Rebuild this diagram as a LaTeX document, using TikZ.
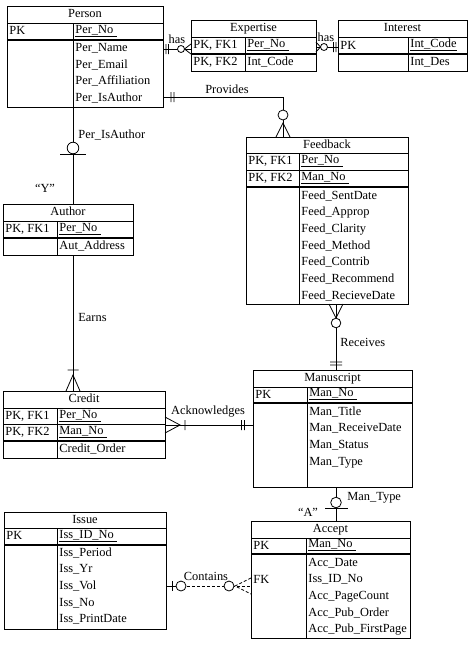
\documentclass[tikz,border=0pt]{standalone}
\usepackage{fontspec}
\setmainfont{Liberation Serif}
\usetikzlibrary{calc}
\tikzstyle{Entity}=[rectangle, draw=black, line width=0.8pt, anchor=north west, inner sep=0]
\tikzstyle{Field}=[anchor=west, inner sep=0, text height=8.5pt, text depth=2.5pt]
\tikzstyle{Title}=[inner sep=0, text height=8.5pt, text depth=2.5pt]
\tikzstyle{Key}=[line width=1.3pt]
\tikzstyle{Rel}=[line width=0.8pt]

\begin{document}
\begin{tikzpicture}[x=1pt, y=-1pt, font=\fontsize{12.4}{14}\selectfont, line width=0.8pt]
    \useasboundingbox (0,0) rectangle (474,656);

    % Person
    \path (7,6) node[Entity, minimum width=156, minimum height=101] (person) {};
    \path (85,14.5) node[Title] (person-t) {Person}
    (9,31) node[Field] (person-k) {PK}
    (75,30) node[Field] (person-pk) {Per\_No};
    \foreach \a [count=\i] in {Per\_Name,Per\_Email,Per\_Affiliation,Per\_IsAuthor}
        \path (75,31.8+16.7*\i) node[Field] (person-\i) {\a};
    \draw (7,23) -- (163,23) (73,23) -- (73,107);
    \draw[Key] (7,40) -- (163,40);
    \draw (person-pk.south west) -- ([xshift=3pt]person-pk.south east);

    % Expertise
    \path (191,20) node[Entity, minimum width=125, minimum height=51] (expertise) {};
    \path (253.5,28.5) node[Title] (expertise-t) {Expertise}
    (193,45.5) node[Field] (expertise-k1) {PK, FK1}
    (247,44.5) node[Field] (expertise-pk) {Per\_No}
    (193,62.5) node[Field] (expertise-k2) {PK, FK2}
    (247,62.5) node[Field] (expertise-1) {Int\_Code};
    \draw (191,37) -- (316,37) (245,37) -- (245,71);
    \draw[Key] (191,54) -- (316,54);
    \draw (expertise-pk.south west) -- ([xshift=3pt]expertise-pk.south east);

    % Interest
    \path (338,20) node[Entity, minimum width=129, minimum height=51] (interest) {};
    \path (402.5,28.5) node[Title] (interest-t) {Interest}
    (340,46) node[Field] (interest-k) {PK}
    (410,44.5) node[Field] (interest-pk) {Int\_Code}
    (410,62.5) node[Field] (interest-1) {Int\_Des};
    \draw (338,37) -- (467,37) (408,37) -- (408,71);
    \draw[Key] (338,54) -- (467,54);
    \draw (interest-pk.south west) -- (interest-pk.south east);

    % Feedback
    \path (246,137) node[Entity, minimum width=162, minimum height=167] (feedback) {};
    \path (327,145) node[Title] (feedback-t) {Feedback}
    (248,161.5) node[Field] (feedback-k1) {PK, FK1}
    (301,160.5) node[Field] (feedback-pk1) {Per\_No}
    (248,178.5) node[Field] (feedback-k2) {PK, FK2}
    (301,177.5) node[Field] (feedback-pk2) {Man\_No};
    \foreach \a [count=\i] in {Feed\_SentDate,Feed\_Approp,Feed\_Clarity,Feed\_Method,Feed\_Contrib,Feed\_Recommend,Feed\_RecieveDate}
        \path (301,179.3+16.7*\i) node[Field] (feedback-\i) {\a};
    \draw (246,153) -- (408,153) (246,170) -- (408,170) (299,153) -- (299,304);
    \draw[Key] (246,187) -- (408,187);
    \draw (feedback-pk1.south west) -- ([xshift=3pt]feedback-pk1.south east);
    \draw (feedback-pk2.south west) -- ([xshift=3pt]feedback-pk2.south east);

    % Author
    \path (3,204) node[Entity, minimum width=130, minimum height=51] (author) {};
    \path (68,212.5) node[Title] (author-t) {Author}
    (5,229.5) node[Field] (author-k) {PK, FK1}
    (59,228.5) node[Field] (author-pk) {Per\_No}
    (59,246.5) node[Field] (author-1) {Aut\_Address};
    \draw (3,221) -- (133,221) (57,221) -- (57,255);
    \draw[Key] (3,238) -- (133,238);
    \draw (author-pk.south west) -- ([xshift=3pt]author-pk.south east);

    % Credit
    \path (3,391) node[Entity, minimum width=162, minimum height=67] (credit) {};
    \path (84,399.5) node[Title] (credit-t) {Credit}
    (5,416) node[Field] (credit-k1) {PK, FK1}
    (59,415) node[Field] (credit-pk1) {Per\_No}
    (5,432.5) node[Field] (credit-k2) {PK, FK2}
    (59,431.5) node[Field] (credit-pk2) {Man\_No}
    (59,449.5) node[Field] (credit-1) {Credit\_Order};
    \draw (3,408) -- (165,408) (3,424) -- (165,424) (57,408) -- (57,458);
    \draw[Key] (3,441) -- (165,441);
    \draw (credit-pk1.south west) -- ([xshift=3pt]credit-pk1.south east);
    \draw (credit-pk2.south west) -- ([xshift=3pt]credit-pk2.south east);

    % Manuscript
    \path (253,370) node[Entity, minimum width=159, minimum height=117] (manuscript) {};
    \path (332.5,378.5) node[Title] (manuscript-t) {Manuscript}
    (255,395) node[Field] (manuscript-k) {PK}
    (309,393.5) node[Field] (manuscript-pk) {Man\_No};
    \foreach \a [count=\i] in {Man\_Title,Man\_ReceiveDate,Man\_Status,Man\_Type}
        \path (309,395.3+16.7*\i) node[Field] (manuscript-\i) {\a};
    \draw (253,387) -- (412,387) (307,387) -- (307,487);
    \draw[Key] (253,403) -- (412,403);
    \draw (manuscript-pk.south west) -- ([xshift=3pt]manuscript-pk.south east);

    % Issue
    \path (4,512) node[Entity, minimum width=162, minimum height=117] (issue) {};
    \path (85,520) node[Title] (issue-t) {Issue}
    (6,536.5) node[Field] (issue-k) {PK}
    (59,535) node[Field] (issue-pk) {Iss\_ID\_No};
    \foreach \a [count=\i] in {Iss\_Period,Iss\_Yr,Iss\_Vol,Iss\_No,Iss\_PrintDate}
        \path (59,536.3+16.7*\i) node[Field] (issue-\i) {\a};
    \draw (4,528) -- (166,528) (57,528) -- (57,629);
    \draw[Key] (4,545) -- (166,545);
    \draw (issue-pk.south west) -- ([xshift=3pt]issue-pk.south east);

    % Accept
    \path (251,521) node[Entity, minimum width=159, minimum height=117] (accept) {};
    \path (330.5,529.5) node[Title] (accept-t) {Accept}
    (253,546) node[Field] (accept-k) {PK}
    (308,544.5) node[Field] (accept-pk) {Man\_No}
    (253,580) node[Field] (accept-fk) {FK};
    \foreach \a [count=\i] in {Acc\_Date,Iss\_ID\_No,Acc\_PageCount,Acc\_Pub\_Order,Acc\_Pub\_FirstPage}
        \path (308,546.3+16.7*\i) node[Field] (accept-\i) {\a};
    \draw (251,538) -- (410,538) (306,538) -- (306,638);
    \draw[Key] (251,554) -- (410,554);
    \draw (accept-pk.south west) -- ([xshift=3pt]accept-pk.south east);

    % relationships
    \draw[Rel] ([yshift=-43pt]person.north east) coordinate (hasPE) -- (hasPE -| expertise.west);
    \draw[Rel] (166,44) -- (166,54) (168.5,44) -- (168.5,54) (191,44) -- (184.5,49) -- (191,54);
    \draw[Rel, fill=white] (181,49) circle[radius=3.5pt];
    \path (177,40) node[Title] (has1) {has};

    \draw[Rel] ([yshift=-27pt]expertise.north east) coordinate (hasEI) -- (hasEI -| interest.west);
    \draw[Rel] (316,42) -- (320.5,47) -- (316,52) (333.5,42) -- (333.5,52) (336,42) -- (336,52);
    \draw[Rel, fill=white] (324,47) circle[radius=3.5pt];
    \path (326,38) node[Title] (has2) {has};

    \draw[Rel] ([yshift=-91pt]person.north east) -| ([xshift=37pt]feedback.north west);
    \draw[Rel] (171,92) -- (171,102) (174,92) -- (174,102) (276,137) -- (283,123) -- (290,137);
    \draw[Rel, fill=white] (283,115) circle[radius=5pt];
    \path (227,90) node[Title] (provides) {Provides};

    \draw[Rel] ([xshift=66pt]person.south west) coordinate (isauthor) -- (isauthor |- author.north);
    \draw[Rel] (60,154) -- (86,154);
    \draw[Rel, fill=white] (73,148) circle[radius=5.8pt];
    \path (78,135) node[Field] (isauthor-l) {Per\_IsAuthor}
    (45,189) node[Title] (yes) {``Y''};

    \draw[Rel] ([xshift=70pt]author.south west) coordinate (earns) -- (earns |- credit.north);
    \draw[Rel] (67.5,370) -- (78.5,370) (66,391) -- (73,375) -- (80,391);
    \path (78,318) node[Field] (earns-l) {Earns};

    \draw[Rel] ([yshift=-34pt]credit.north east) coordinate (ack) -- (ack -| manuscript.west);
    \draw[Rel] (165,417) -- (180,425) -- (165,433) (185,420) -- (185,430)
    (241.5,420) -- (241.5,430) (244.5,420) -- (244.5,430);
    \path (208,411) node[Title] (ack-l) {Acknowledges};

    \draw[Rel] ([xshift=90pt]feedback.south west) coordinate (receives) -- (receives |- manuscript.north);
    \draw[Rel] (329,304) -- (336,318) -- (343,304) (330,362) -- (342,362) (330,365) -- (342,365);
    \draw[Rel, fill=white] (336,323) circle[radius=4.8pt];
    \path (340,343) node[Field] (receives-l) {Receives};

    \draw[Rel] ([xshift=83pt]manuscript.south west) coordinate (mantype) -- (mantype |- accept.north);
    \draw[Rel] (325,508) -- (348,508);
    \draw[Rel, fill=white] (336,502.5) circle[radius=5.3pt];
    \path (347,497) node[Field] (mantype-l) {Man\_Type}
    (308,513) node[Title] (acc) {``A''};

    \draw[Rel, dash pattern=on 3pt off 2pt] ([yshift=-74pt]issue.north east) coordinate (contains) -- (contains -| accept.west);
    \draw[Rel] (166,586) -- (176,586) (172,581) -- (172,591);
    \draw[Rel, dash pattern=on 3pt off 2pt] (251,578) -- (235,586) -- (251,594);
    \draw[Rel, fill=white] (181,586) circle[radius=5pt] (229,586) circle[radius=5pt];
    \path (206,577) node[Title] (contains-l) {Contains};
\end{tikzpicture}
\end{document}
